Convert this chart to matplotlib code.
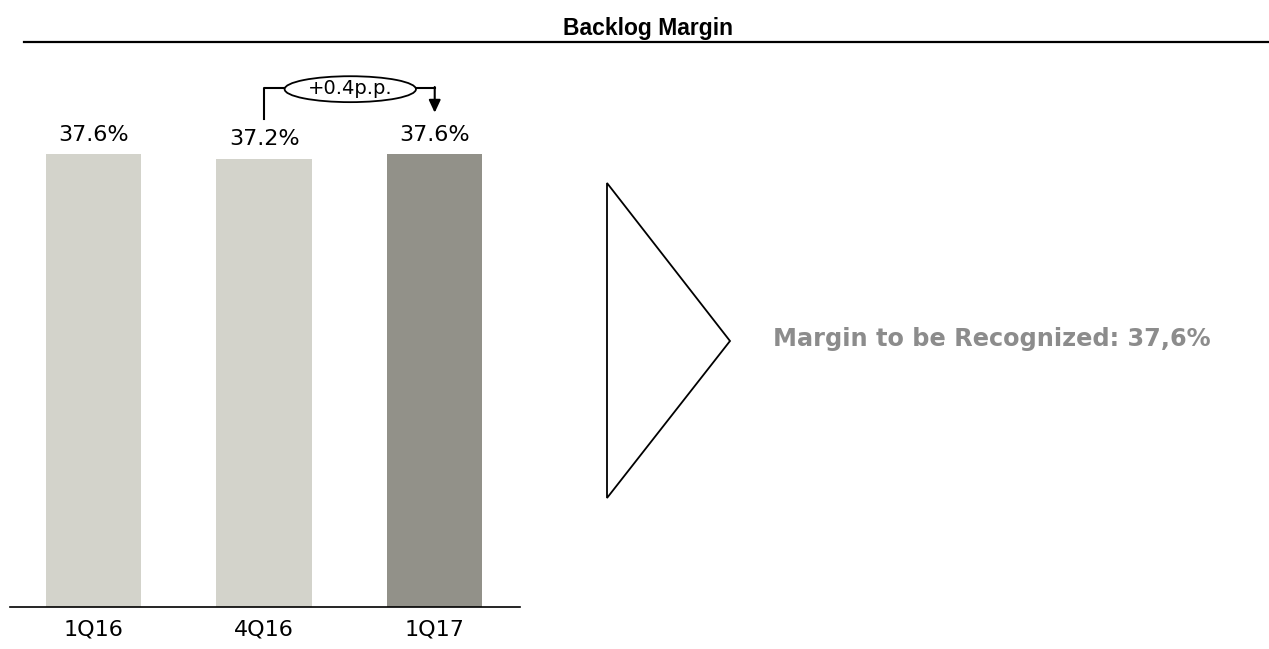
import matplotlib
matplotlib.use("Agg")
import matplotlib.pyplot as plt
from matplotlib.patches import Ellipse, Polygon
from matplotlib.lines import Line2D

quarters = ["1Q16", "4Q16", "1Q17"]
margins = [37.6, 37.2, 37.6]
bar_colors = ["#d3d3cb", "#d3d3cb", "#929189"]
delta_label = "+0.4p.p."
summary_text = "Margin to be Recognized: 37,6%"

W, H = 1269, 649
fig = plt.figure(figsize=(W / 100, H / 100), dpi=100)


def fx(px):
    return px / W


def fy(py):
    return 1 - py / H


# bar panel on the left
ax = fig.add_axes([fx(10), fy(607), fx(520) - fx(10), fy(50) - fy(607)])
x = list(range(len(quarters)))
ax.bar(x, margins, width=0.56, color=bar_colors, zorder=2)
ax.set_xlim(-0.49, 2.5)
ax.set_ylim(0, 46.2)
for s in ["top", "right", "left"]:
    ax.spines[s].set_visible(False)
ax.spines["bottom"].set_linewidth(1.2)
ax.set_yticks([])
ax.set_xticks(x)
ax.set_xticklabels(quarters, fontsize=16)
ax.tick_params(axis="x", length=0, pad=9)

for xi, v in zip(x, margins):
    ax.annotate(f"{v:.1f}%", (xi, v), xytext=(0, 6.5), textcoords="offset points",
                ha="center", va="bottom", fontsize=16)

# change bracket from 4Q16 to 1Q17
y_top = max(margins) + 5.45
ax.plot([1, 1, 1.12], [margins[1] + 3.3, y_top, y_top], color="black", lw=1.5,
        clip_on=False)
ax.plot([1.89, 2.0], [y_top, y_top], color="black", lw=1.5, clip_on=False)
ax.annotate("", xy=(2.0, margins[2] + 3.4), xytext=(2.0, y_top + 0.08),
            arrowprops=dict(arrowstyle="-|>,head_length=0.75,head_width=0.35",
                            color="black", lw=1.5, shrinkA=0, shrinkB=0),
            annotation_clip=False)
ax.add_patch(Ellipse((1.505, y_top - 0.1), 0.77, 2.15, facecolor="white",
                     edgecolor="black", lw=1.3, clip_on=False, zorder=3))
ax.text(1.505, y_top - 0.05, delta_label, ha="center", va="center", fontsize=14,
        zorder=4)

# title and rule
fig.text(fx(648), fy(28), "Backlog Margin", ha="center", va="center",
         fontsize=16.5, fontweight="bold", family="Liberation Sans")
fig.add_artist(Line2D([fx(24), 1], [fy(42), fy(42)], color="black", lw=1.6))

# outline triangle pointing at the summary
fig.add_artist(Polygon([[fx(607), fy(183)], [fx(730), fy(341)], [fx(607), fy(498)]],
                       closed=True, fill=False, edgecolor="black", lw=1.3,
                       transform=fig.transFigure))

fig.text(fx(773), fy(339), summary_text, ha="left", va="center", fontsize=17.3,
         fontweight="bold", color="#8c8c8c")

fig.savefig("out.png", dpi=100)
